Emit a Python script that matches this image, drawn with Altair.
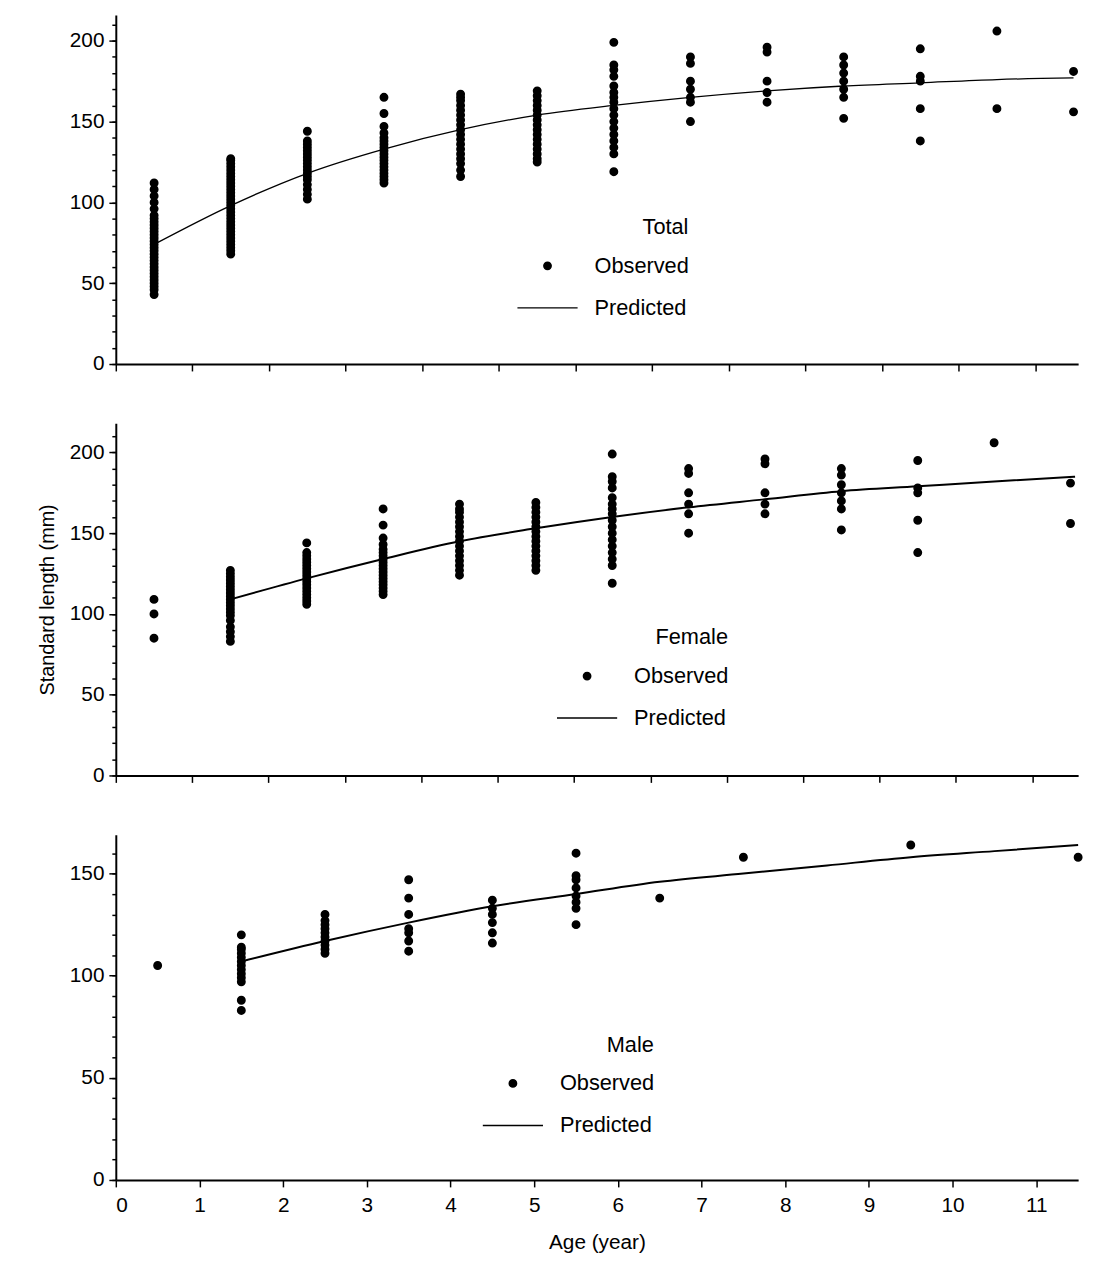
import altair as alt
import pandas as pd

FONT = "Liberation Sans"

# observed standard length (mm) by age class
total_obs = {
    0.5: [43, 46, 48, 50, 52, 54, 56, 58, 60, 62, 64, 66, 68, 70, 72, 74, 76, 78, 80, 82, 84, 86, 88, 90, 92, 96, 100, 104, 108, 112],
    1.5: [68, 70, 72, 74, 76, 78, 80, 82, 84, 86, 88, 90, 92, 94, 96, 98, 100, 102, 104, 106, 108, 110, 112, 114, 116, 118, 120, 122, 124, 126, 127],
    2.5: [102, 105, 108, 111, 114, 116, 118, 120, 122, 124, 126, 128, 130, 132, 134, 136, 138, 144],
    3.5: [112, 114, 116, 118, 120, 122, 124, 126, 128, 130, 132, 134, 136, 138, 140, 143, 147, 155, 165],
    4.5: [116, 120, 124, 127, 130, 133, 136, 139, 142, 145, 148, 151, 154, 157, 160, 163, 165, 167],
    5.5: [125, 127, 130, 133, 136, 139, 142, 145, 148, 151, 154, 157, 160, 163, 166, 169],
    6.5: [119, 130, 134, 138, 142, 146, 150, 154, 158, 162, 165, 168, 172, 178, 182, 185, 199],
    7.5: [150, 162, 165, 170, 175, 186, 190],
    8.5: [162, 168, 175, 193, 196],
    9.5: [152, 165, 170, 175, 180, 185, 190],
    10.5: [138, 158, 175, 178, 195],
    11.5: [158, 206],
    12.5: [156, 181],
}
female_obs = {
    0.5: [85, 100, 109],
    1.5: [83, 86, 89, 92, 96, 99, 101, 103, 105, 107, 109, 111, 113, 115, 117, 119, 121, 123, 125, 127],
    2.5: [106, 108, 110, 112, 114, 116, 118, 120, 122, 124, 126, 128, 130, 132, 134, 136, 138, 144],
    3.5: [112, 114, 116, 118, 120, 122, 124, 126, 128, 130, 132, 134, 136, 138, 140, 143, 147, 155, 165],
    4.5: [124, 127, 130, 133, 136, 139, 142, 145, 148, 151, 154, 157, 160, 163, 165, 168],
    5.5: [127, 130, 133, 136, 139, 142, 145, 148, 151, 154, 157, 160, 163, 166, 169],
    6.5: [119, 130, 134, 138, 142, 146, 150, 154, 158, 162, 165, 168, 172, 178, 182, 185, 199],
    7.5: [150, 162, 168, 175, 187, 190],
    8.5: [162, 168, 175, 193, 196],
    9.5: [152, 165, 170, 175, 180, 186, 190],
    10.5: [138, 158, 175, 178, 195],
    11.5: [206],
    12.5: [156, 181],
}
male_obs = {
    0.5: [105],
    1.5: [83, 88, 97, 99, 101, 103, 105, 107, 109, 111, 113, 114, 120],
    2.5: [111, 113, 115, 117, 119, 121, 123, 125, 127, 130],
    3.5: [112, 117, 121, 123, 130, 138, 147],
    4.5: [116, 121, 126, 130, 133, 137],
    5.5: [125, 133, 136, 139, 143, 147, 149, 160],
    6.5: [138],
    7.5: [158],
    9.5: [164],
    11.5: [158],
}

# predicted curves
total_pred_age = [0.5, 1.5, 2.5, 3.5, 4.5, 5.5, 6.5, 7.5, 8.5, 9.5, 10.5, 11.5, 12.5]
total_pred_len = [74, 98, 118, 133, 145, 154, 160, 165, 169, 172, 174, 176, 177]
female_pred_age = [1.5, 2.5, 3.5, 4.5, 5.5, 6.5, 7.5, 8.5, 9.5, 10.5, 11.5, 12.56]
female_pred_len = [109, 122, 134, 145, 153, 160, 166, 171, 176, 179, 182, 185]
male_pred_age = [1.5, 2.5, 3.5, 4.5, 5.5, 6.5, 7.5, 8.5, 9.5, 10.5, 11.5]
male_pred_len = [107, 117, 126, 134, 140, 146, 150, 154, 158, 161, 164]


def obs_frame(d):
    rows = [(a, v, "Observed") for a, vals in d.items() for v in vals]
    return pd.DataFrame(rows, columns=["age", "length", "kind"])


def panel(obs, pa, pl, title, xmax, ymax, xlabels, ytitle, legx, h, stroke):
    yscale = alt.Scale(domain=[0, ymax], nice=False, zero=True)
    y = alt.Y("length:Q", scale=yscale,
              axis=alt.Axis(values=list(range(0, int(ymax) + 1, 50)), tickSize=7,
                            labelOverlap=False, labelFontSize=21, labelPadding=5,
                            title=ytitle, titleFontSize=20, titleFontWeight="normal",
                            titlePadding=12))
    y_minor = alt.Y("length:Q", scale=yscale,
                    axis=alt.Axis(values=list(range(0, int(ymax) + 1, 10)), tickSize=4,
                                  labels=False, domain=False, title=None, orient="left"))
    if xlabels:
        xax = alt.Axis(values=list(range(0, 12)), format="d", title="Age (year)", titleFontSize=21,
                       titleFontWeight="normal", titlePadding=16, labelPadding=8,
                       labelFontSize=21, labelOverlap=False, tickSize=7)
    else:
        xax = alt.Axis(values=list(range(0, 13)), labels=False, title=None, tickSize=7)
    x = alt.X("age:Q", scale=alt.Scale(domain=[0, xmax], nice=False), axis=xax)
    leg = alt.Legend(title=title, orient="none", legendX=legx, legendY=h * 0.58,
                     titleFontSize=22, titleFontWeight="normal", titleAnchor="end",
                     titleAlign="right", titlePadding=16,
                     labelFontSize=22, rowPadding=0, labelOffset=16)
    dom = ["Observed", "Predicted"]
    pts = alt.Chart(obs_frame(obs)).mark_point(
        filled=True, opacity=1, color="black", stroke="black", strokeWidth=1.6).encode(
        x=x, y=y,
        shape=alt.Shape("kind:N", scale=alt.Scale(domain=dom, range=["circle", "stroke"]), legend=leg),
        size=alt.Size("kind:N", scale=alt.Scale(domain=dom, range=[55, 3700]), legend=leg),
    )
    line = alt.Chart(pd.DataFrame({"age": pa, "length": pl})).mark_line(
        color="black", strokeWidth=stroke, interpolate="monotone").encode(x="age:Q", y=y_minor)
    return alt.layer(pts, line).resolve_axis(y="independent").properties(width=973, height=h)


top = panel(total_obs, total_pred_age, total_pred_len, "Total", 12.56, 216, False, None, 405, 353, 1.3)
mid = panel(female_obs, female_pred_age, female_pred_len, "Female", 12.6, 218, False,
            "Standard length (mm)", 445, 356, 2)
bot = panel(male_obs, male_pred_age, male_pred_len, "Male", 11.5, 169, True, None, 370, 349, 2)

chart = alt.vconcat(top, mid, bot, spacing=50).resolve_legend(
    shape="independent", size="independent").resolve_scale(
    shape="independent", size="independent").configure_axis(
    labelFont=FONT, titleFont=FONT, labelColor="black", titleColor="black",
    domainColor="black", domainWidth=2, tickColor="black", tickWidth=1.5, grid=False,
).configure_legend(labelFont=FONT, titleFont=FONT, labelColor="black", titleColor="black").configure_view(
    stroke=None
).properties(padding={"left": 29, "top": 0, "right": 5, "bottom": 5})

chart.save("out.html", embed_options={"renderer": "svg", "actions": False})
